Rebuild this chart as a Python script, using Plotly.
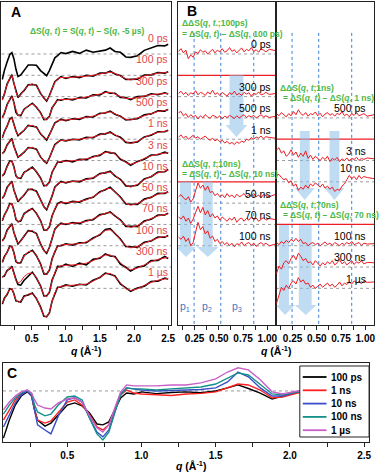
import plotly.graph_objects as go

W, H = 380, 472
FONT = "Liberation Sans, Arial, sans-serif"
GREEN = "#4cb847"
RED = "#ee1c24"
LABEL_RED = "#e2454a"
PBLUE = "#3f78c0"

# ---------------- panel A : dS(q,t), data (black) and fit (red) ----------------
q_a = [0.07, 0.10, 0.14, 0.18, 0.21, 0.24, 0.27, 0.30, 0.34, 0.39, 0.45, 0.51, 0.57,
       0.63, 0.68, 0.72, 0.76, 0.80, 0.84, 0.88, 0.93, 1.00, 1.10, 1.20, 1.30, 1.40,
       1.50, 1.58, 1.65, 1.72, 1.80, 1.88, 1.95, 2.05, 2.15, 2.25, 2.35, 2.45, 2.50]
times_a = ["0 ps", "100 ps", "300 ps", "500 ps", "1 ns", "3 ns", "10 ns",
           "50 ns", "70 ns", "100 ns", "300 ns", "1 µs"]

data_0ps = [-1.2, -0.78, -0.38, -0.02, 0.06, -0.22, -0.72, -1.06, -0.98, -0.78, -0.52, -0.52, -0.53, -0.78, -0.93, -1.02, -0.78, -0.47, -0.18, -0.08, 0.07, 0.02, 0.12, 0.03, 0.18, 0.08, 0.14, 0.18, 0.28, 0.12, 0.08, -0.14, -0.16, -0.08, 0.17, 0.27, 0.4, 0.38, 0.46]
data_100ps = [-1.14, -0.89, -0.41, -0.14, 0.03, -0.38, -0.77, -1.04, -0.88, -0.71, -0.44, -0.43, -0.47, -0.85, -1.07, -1.21, -0.95, -0.65, -0.3, -0.19, -0.06, -0.15, -0.06, -0.11, 0.0, -0.04, 0.11, 0.1, 0.19, 0.06, -0.01, -0.2, -0.19, -0.18, 0.01, 0.02, 0.13, 0.1, 0.17]
data_300ps = [-0.97, -0.79, -0.37, -0.13, 0.03, -0.27, -0.74, -0.87, -0.89, -0.59, -0.46, -0.31, -0.5, -0.75, -1.08, -1.06, -0.93, -0.52, -0.34, -0.14, -0.17, -0.1, -0.16, -0.04, -0.06, 0.08, 0.08, 0.23, 0.16, 0.16, -0.04, -0.05, -0.14, 0.0, 0.01, 0.13, 0.09, 0.18, 0.12]
data_500ps = [-0.93, -0.65, -0.39, -0.05, 0.02, -0.31, -0.6, -0.83, -0.73, -0.58, -0.35, -0.38, -0.42, -0.75, -0.92, -1.04, -0.79, -0.53, -0.23, -0.16, -0.06, -0.13, -0.04, -0.07, 0.06, 0.04, 0.22, 0.23, 0.32, 0.17, 0.08, -0.1, -0.07, -0.04, 0.15, 0.19, 0.33, 0.32, 0.4]
data_1ns = [-0.67, -0.58, -0.27, -0.1, 0.03, -0.33, -0.62, -0.85, -0.75, -0.61, -0.39, -0.41, -0.47, -0.83, -1.02, -1.13, -0.87, -0.58, -0.25, -0.15, -0.03, -0.08, 0.0, -0.03, 0.09, 0.07, 0.24, 0.25, 0.34, 0.19, 0.09, -0.15, -0.17, -0.13, 0.11, 0.19, 0.35, 0.35, 0.42]
data_3ns = [-0.72, -0.62, -0.27, -0.03, -0.03, -0.29, -0.72, -0.82, -0.84, -0.55, -0.44, -0.31, -0.53, -0.82, -1.19, -1.16, -1.01, -0.55, -0.31, -0.07, -0.08, 0.0, -0.06, 0.06, 0.04, 0.19, 0.24, 0.42, 0.36, 0.34, 0.06, -0.06, -0.22, -0.04, 0.06, 0.26, 0.27, 0.39, 0.34]
data_10ns = [-0.77, -0.64, -0.26, -0.09, 0.03, -0.38, -0.69, -0.93, -0.78, -0.62, -0.35, -0.36, -0.44, -0.88, -1.17, -1.31, -1.02, -0.66, -0.24, -0.11, 0.02, -0.05, 0.04, 0.0, 0.14, 0.17, 0.39, 0.42, 0.5, 0.28, 0.12, -0.19, -0.21, -0.16, 0.14, 0.24, 0.46, 0.47, 0.58]
data_50ns = [-0.83, -0.56, -0.33, -0.02, -0.03, -0.32, -0.76, -0.87, -0.84, -0.49, -0.36, -0.25, -0.48, -0.82, -1.26, -1.27, -1.11, -0.59, -0.29, -0.02, 0.06, -0.02, 0.08, 0.05, 0.19, 0.27, 0.54, 0.63, 0.75, 0.52, 0.29, -0.04, -0.06, -0.06, 0.19, 0.27, 0.46, 0.45, 0.53]
data_70ns = [-0.77, -0.64, -0.27, -0.08, 0.03, -0.38, -0.69, -0.92, -0.77, -0.56, -0.29, -0.32, -0.43, -0.91, -1.22, -1.36, -1.07, -0.66, -0.22, -0.08, 0.06, 0.0, 0.09, 0.04, 0.18, 0.22, 0.46, 0.5, 0.59, 0.4, 0.22, -0.09, -0.1, -0.09, 0.16, 0.24, 0.44, 0.44, 0.53]
data_100ns = [-0.78, -0.51, -0.31, -0.02, -0.03, -0.32, -0.74, -0.82, -0.8, -0.45, -0.32, -0.21, -0.47, -0.85, -1.32, -1.33, -1.15, -0.61, -0.29, -0.01, 0.0, 0.09, 0.03, 0.14, 0.14, 0.36, 0.51, 0.76, 0.8, 0.56, 0.32, -0.04, -0.06, -0.07, 0.16, 0.22, 0.41, 0.4, 0.48]
data_300ns = [-0.46, -0.43, -0.16, -0.08, 0.04, -0.34, -0.58, -0.82, -0.85, -0.62, -0.41, -0.24, -0.52, -0.88, -1.36, -1.35, -1.19, -0.6, -0.3, 0.03, 0.02, 0.14, 0.03, 0.18, 0.1, 0.36, 0.41, 0.62, 0.52, 0.5, 0.14, -0.01, -0.19, 0.0, 0.05, 0.3, 0.31, 0.5, 0.4]
data_1us = [-0.74, -0.46, -0.29, -0.02, -0.03, -0.25, -0.59, -0.62, -0.64, -0.36, -0.31, -0.22, -0.48, -0.87, -1.31, -1.33, -1.15, -0.59, -0.24, 0.05, 0.06, 0.16, 0.1, 0.19, 0.16, 0.38, 0.51, 0.72, 0.66, 0.58, 0.21, 0.02, -0.14, 0.02, 0.1, 0.32, 0.34, 0.48, 0.44]

fit_100ps = [-1.17, -0.85, -0.45, -0.12, 0.0, -0.35, -0.8, -1.0, -0.92, -0.68, -0.47, -0.4, -0.5, -0.82, -1.1, -1.18, -0.98, -0.62, -0.33, -0.16, -0.1, -0.12, -0.1, -0.08, -0.04, 0.0, 0.07, 0.13, 0.15, 0.09, -0.04, -0.16, -0.22, -0.15, -0.03, 0.05, 0.1, 0.13, 0.15]
fit_300ps = [-1.0, -0.75, -0.4, -0.1, 0.0, -0.3, -0.7, -0.9, -0.85, -0.62, -0.42, -0.35, -0.47, -0.78, -1.05, -1.1, -0.9, -0.55, -0.3, -0.17, -0.13, -0.14, -0.12, -0.08, -0.02, 0.04, 0.12, 0.19, 0.2, 0.12, 0.0, -0.08, -0.1, -0.04, 0.04, 0.09, 0.12, 0.14, 0.15]
fit_500ps = [-0.9, -0.68, -0.36, -0.08, 0.0, -0.28, -0.63, -0.8, -0.76, -0.55, -0.38, -0.35, -0.45, -0.72, -0.95, -1.0, -0.82, -0.5, -0.26, -0.13, -0.1, -0.1, -0.08, -0.03, 0.03, 0.08, 0.18, 0.26, 0.28, 0.2, 0.05, -0.06, -0.1, 0.0, 0.12, 0.22, 0.3, 0.35, 0.38]
fit_1ns = [-0.7, -0.55, -0.3, -0.07, 0.0, -0.3, -0.65, -0.82, -0.78, -0.58, -0.42, -0.38, -0.5, -0.8, -1.05, -1.1, -0.9, -0.55, -0.28, -0.12, -0.06, -0.05, -0.04, 0.0, 0.05, 0.1, 0.2, 0.28, 0.3, 0.22, 0.05, -0.12, -0.2, -0.1, 0.08, 0.22, 0.32, 0.38, 0.4]
fit_3ns = [-0.75, -0.58, -0.3, -0.06, 0.0, -0.32, -0.68, -0.85, -0.8, -0.58, -0.4, -0.35, -0.5, -0.85, -1.15, -1.2, -0.98, -0.58, -0.28, -0.1, -0.04, -0.04, -0.02, 0.02, 0.08, 0.15, 0.28, 0.38, 0.4, 0.3, 0.1, -0.1, -0.18, -0.08, 0.1, 0.22, 0.3, 0.35, 0.37]
fit_10ns = [-0.8, -0.6, -0.3, -0.06, 0.0, -0.35, -0.72, -0.9, -0.82, -0.58, -0.38, -0.32, -0.48, -0.85, -1.2, -1.28, -1.05, -0.62, -0.28, -0.08, -0.02, -0.02, 0.0, 0.04, 0.1, 0.2, 0.35, 0.45, 0.46, 0.32, 0.08, -0.15, -0.25, -0.12, 0.1, 0.28, 0.42, 0.5, 0.55]
fit_50ns = [-0.8, -0.6, -0.3, -0.05, 0.0, -0.35, -0.72, -0.9, -0.8, -0.52, -0.32, -0.28, -0.45, -0.85, -1.22, -1.3, -1.08, -0.62, -0.25, -0.05, 0.02, 0.02, 0.04, 0.08, 0.15, 0.3, 0.5, 0.66, 0.7, 0.55, 0.25, 0.0, -0.1, -0.02, 0.15, 0.3, 0.42, 0.48, 0.5]
fit_70ns = [-0.8, -0.6, -0.3, -0.05, 0.0, -0.35, -0.72, -0.88, -0.8, -0.52, -0.32, -0.28, -0.46, -0.88, -1.25, -1.32, -1.1, -0.63, -0.25, -0.05, 0.02, 0.03, 0.05, 0.08, 0.14, 0.26, 0.42, 0.53, 0.55, 0.43, 0.18, -0.05, -0.14, -0.05, 0.12, 0.28, 0.4, 0.47, 0.5]
fit_100ns = [-0.75, -0.55, -0.28, -0.05, 0.0, -0.35, -0.7, -0.85, -0.76, -0.48, -0.28, -0.25, -0.44, -0.88, -1.28, -1.36, -1.12, -0.64, -0.25, -0.04, 0.04, 0.05, 0.07, 0.1, 0.18, 0.32, 0.55, 0.72, 0.75, 0.6, 0.28, 0.0, -0.1, -0.03, 0.12, 0.26, 0.37, 0.43, 0.45]
fit_300ns = [-0.5, -0.38, -0.2, -0.04, 0.0, -0.3, -0.62, -0.75, -0.68, -0.45, -0.3, -0.28, -0.48, -0.92, -1.32, -1.4, -1.15, -0.65, -0.25, -0.02, 0.06, 0.08, 0.1, 0.12, 0.18, 0.3, 0.46, 0.56, 0.57, 0.45, 0.2, -0.05, -0.13, -0.05, 0.1, 0.25, 0.36, 0.42, 0.45]
fit_1us = [-0.7, -0.5, -0.25, -0.05, 0.0, -0.28, -0.55, -0.65, -0.6, -0.4, -0.27, -0.25, -0.45, -0.9, -1.28, -1.36, -1.12, -0.62, -0.2, 0.02, 0.1, 0.12, 0.14, 0.15, 0.2, 0.34, 0.55, 0.68, 0.7, 0.55, 0.25, -0.02, -0.1, -0.02, 0.14, 0.28, 0.38, 0.44, 0.47]

data_a = [data_0ps, data_100ps, data_300ps, data_500ps, data_1ns, data_3ns, data_10ns,
          data_50ns, data_70ns, data_100ns, data_300ns, data_1us]
fit_a = [None, fit_100ps, fit_300ps, fit_500ps, fit_1ns, fit_3ns, fit_10ns,
         fit_50ns, fit_70ns, fit_100ns, fit_300ns, fit_1us]

# ---------------- panel B : ddS(q,t; ref) ----------------
q_b = [0.085, 0.11, 0.135, 0.16, 0.185, 0.21, 0.235, 0.26, 0.285, 0.31, 0.335, 0.36, 0.385,
       0.41, 0.435, 0.46, 0.485, 0.51, 0.535, 0.56, 0.585, 0.61, 0.635, 0.66, 0.685, 0.71,
       0.735, 0.76, 0.785, 0.81, 0.835, 0.86, 0.885, 0.91, 0.935, 0.96, 0.985, 1.02, 1.09]

dd_0ps = [0.12, 0.25, 0.05, 0.18, -0.22, -0.05, -0.15, 0.1, 0.02, 0.2, 0.08, 0.15, 0.0, 0.12, 0.22, 0.05, 0.18, 0.1, 0.25, 0.08, 0.15, 0.3, 0.12, 0.2, 0.05, 0.18, 0.28, 0.1, 0.22, 0.15, 0.3, 0.12, 0.2, 0.08, 0.25, 0.18, 0.1, 0.22, 0.15]
dd_300ps = [0.15, 0.25, 0.1, 0.2, 0.05, 0.18, 0.12, 0.28, 0.08, 0.2, 0.15, 0.05, 0.22, 0.12, 0.3, 0.1, 0.18, 0.05, 0.2, 0.12, 0.02, 0.18, 0.1, 0.25, 0.08, 0.15, 0.05, 0.2, 0.12, 0.18, 0.02, 0.15, 0.1, 0.22, 0.08, 0.12, 0.2, 0.1, 0.15]
dd_500ps_a = [0.25, 0.3, 0.1, 0.2, 0.02, 0.15, 0.05, 0.12, -0.05, 0.1, 0.0, 0.15, 0.05, -0.02, 0.12, 0.08, 0.0, 0.1, -0.05, 0.08, 0.02, 0.12, 0.05, -0.03, 0.1, 0.0, 0.08, 0.15, 0.02, 0.1, 0.05, 0.12, 0.0, 0.08, 0.15, 0.05, 0.1, 0.02, 0.08]
dd_1ns = [0.1, 0.2, 0.05, 0.15, 0.0, 0.1, 0.18, 0.05, 0.12, 0.0, 0.08, 0.15, 0.02, -0.05, 0.05, -0.08, 0.0, -0.12, -0.05, -0.18, -0.1, -0.22, -0.15, -0.25, -0.12, -0.2, -0.08, -0.15, 0.0, -0.05, 0.08, 0.0, 0.1, 0.05, 0.15, 0.02, 0.12, 0.08, 0.05]
dd_50ns = [0.3, 0.4, 0.25, 0.15, 0.3, 0.05, 0.2, 0.55, 0.95, 0.7, 0.85, 0.6, 0.8, 0.5, 0.55, 0.35, 0.45, 0.3, 0.4, 0.25, 0.45, 0.3, 0.38, 0.25, 0.42, 0.3, 0.35, 0.45, 0.28, 0.4, 0.32, 0.45, 0.3, 0.38, 0.25, 0.4, 0.35, 0.3, 0.42]
dd_70ns = [0.35, 0.25, 0.4, 0.15, 0.3, 0.05, 0.25, 0.6, 0.85, 0.55, 0.8, 0.45, 0.65, 0.35, 0.5, 0.3, 0.4, 0.2, 0.35, 0.25, 0.15, 0.3, 0.2, 0.35, 0.1, 0.25, 0.3, 0.15, 0.28, 0.2, 0.35, 0.22, 0.3, 0.15, 0.25, 0.32, 0.2, 0.28, 0.22]
dd_100ns_a = [0.4, 0.3, 0.45, 0.2, 0.35, 0.0, 0.15, 0.7, 1.1, 0.75, 0.9, 0.55, 0.7, 0.35, 0.45, 0.2, 0.3, 0.1, 0.2, 0.05, 0.15, 0.0, 0.12, -0.05, 0.1, 0.05, 0.18, 0.0, 0.1, 0.15, 0.02, 0.12, -0.03, 0.08, 0.15, 0.05, 0.12, 0.0, 0.08]
dd_500ps_b = [0.2, 0.1, 0.25, 0.15, 0.05, 0.2, 0.1, 0.3, 0.15, 0.38, 0.2, 0.12, 0.25, 0.08, 0.2, 0.15, 0.28, 0.1, 0.22, 0.05, 0.18, 0.25, 0.12, 0.2, 0.08, 0.22, 0.15, 0.3, 0.1, 0.18, 0.05, 0.2, 0.12, 0.25, 0.1, 0.15, 0.2, 0.08, 0.15]
dd_3ns = [0.5, 0.6, 0.35, 0.45, 0.2, 0.3, 0.5, 0.25, 0.4, 0.15, 0.35, 0.2, 0.45, 0.1, 0.25, 0.05, 0.2, 0.1, 0.0, 0.15, 0.05, 0.2, -0.05, 0.1, 0.02, 0.15, -0.05, 0.08, 0.0, 0.12, -0.02, 0.1, 0.05, 0.15, 0.0, 0.1, 0.05, 0.12, 0.08]
dd_10ns = [0.3, 0.35, 0.2, 0.1, 0.15, -0.05, 0.05, -0.2, -0.1, -0.4, -0.25, -0.35, -0.15, -0.3, -0.1, -0.2, -0.05, -0.15, -0.25, -0.1, -0.3, -0.2, -0.35, -0.25, -0.45, -0.35, -0.4, -0.2, -0.1, 0.1, 0.3, 0.15, 0.25, 0.1, 0.3, 0.15, 0.25, 0.2, 0.15]
dd_100ns_b = [0.15, 0.05, 0.2, 0.1, 0.25, 0.15, 0.3, 0.2, 0.35, 0.2, 0.3, 0.1, 0.15, 0.0, 0.1, 0.15, 0.05, 0.12, 0.0, 0.1, 0.18, 0.05, 0.12, 0.02, 0.15, 0.08, 0.0, 0.12, 0.05, 0.15, 0.08, 0.2, 0.05, 0.1, 0.15, 0.02, 0.12, 0.08, 0.1]
dd_300ns = [-0.3, 0.05, -0.1, 0.2, 0.3, 0.15, 0.4, 0.55, 0.35, 0.65, 0.5, 0.3, 0.4, 0.2, 0.25, 0.1, 0.3, 0.15, 0.05, 0.2, 0.1, 0.25, 0.15, 0.3, 0.1, 0.2, 0.35, 0.15, 0.25, 0.1, 0.2, 0.3, 0.12, 0.25, 0.18, 0.3, 0.15, 0.22, 0.2]
dd_1us = [-0.7, -0.3, 0.05, -0.1, 0.15, 0.0, 0.25, 0.35, 0.2, 0.5, 0.3, 0.4, 0.2, 0.25, 0.05, 0.15, 0.0, 0.1, 0.2, 0.05, 0.15, 0.25, 0.1, 0.2, 0.05, 0.15, 0.3, 0.12, 0.25, 0.18, 0.3, 0.2, 0.35, 0.25, 0.3, 0.22, 0.35, 0.28, 0.3]

b_left_labels = ["0 ps", "300 ps", "500 ps", "1 ns", "50 ns", "70 ns", "100 ns"]
b_left_slots = [0, 2, 3, 4, 7, 8, 9]
b_left_vals = [dd_0ps, dd_300ps, dd_500ps_a, dd_1ns, dd_50ns, dd_70ns, dd_100ns_a]
b_right_labels = ["500 ps", "3 ns", "10 ns", "100 ns", "300 ns", "1 µs"]
b_right_slots = [3, 5, 6, 9, 10, 11]
b_right_vals = [dd_500ps_b, dd_3ns, dd_10ns, dd_100ns_b, dd_300ns, dd_1us]
ref_left_slots = [1, 6]    # 100 ps and 10 ns references
ref_right_slots = [4, 8]   # 1 ns and 70 ns references
region_bounds = [0.245, 0.52, 0.86]

# ---------------- panel C : dS(q,t) overlaid ----------------
q_c = [0.07, 0.11, 0.15, 0.19, 0.23, 0.26, 0.28, 0.30, 0.35, 0.39, 0.44, 0.50, 0.55, 0.60,
       0.65, 0.70, 0.74, 0.78, 0.82, 0.86, 0.90, 0.95, 1.00, 1.10, 1.20, 1.30, 1.40, 1.50,
       1.58, 1.65, 1.72, 1.80, 1.88, 1.95, 2.05, 2.20, 2.35, 2.50]
c_names = ["100 ps", "1 ns", "10 ns", "100 ns", "1 µs"]
c_100ps = [-1.57, -0.97, -0.47, -0.17, -0.03, -0.17, -0.63, -0.97, -1.17, -1.07, -0.8, -0.47, -0.4, -0.5, -0.73, -1.1, -1.13, -1.03, -0.63, -0.23, -0.07, -0.1, -0.03, -0.09, -0.05, -0.03, -0.06, 0.0, 0.1, 0.2, 0.08, -0.07, -0.27, -0.18, -0.03, 0.02, 0.07, 0.17]
c_1ns = [-0.97, -0.63, -0.3, -0.1, 0.0, -0.17, -0.63, -0.97, -1.07, -1.0, -0.7, -0.37, -0.3, -0.47, -0.8, -1.2, -1.3, -1.13, -0.63, -0.13, 0.03, -0.07, -0.1, -0.13, -0.15, -0.1, -0.08, -0.03, 0.1, 0.23, 0.2, 0.03, -0.23, -0.2, -0.07, 0.0, 0.07, 0.17]
c_10ns = [-1.2, -0.8, -0.4, -0.13, 0.0, -0.17, -0.7, -1.13, -1.3, -1.43, -0.83, -0.3, -0.23, -0.37, -0.9, -1.37, -1.53, -1.3, -0.7, -0.1, 0.1, 0.07, 0.03, 0.0, 0.02, 0.03, 0.05, 0.1, 0.3, 0.63, 0.47, 0.1, -0.17, -0.17, -0.03, 0.03, 0.1, 0.2]
c_100ns = [-0.77, -0.47, -0.23, -0.07, 0.03, -0.1, -0.47, -0.7, -0.83, -0.77, -0.47, -0.2, -0.17, -0.3, -0.9, -1.43, -1.63, -1.37, -0.73, -0.13, 0.1, 0.07, 0.07, 0.03, 0.07, 0.1, 0.13, 0.23, 0.43, 0.6, 0.53, 0.23, -0.1, -0.13, -0.03, 0.03, 0.1, 0.2]
c_1us = [-0.63, -0.37, -0.17, -0.03, 0.03, -0.07, -0.3, -0.47, -0.57, -0.6, -0.4, -0.27, -0.23, -0.37, -0.83, -1.23, -1.37, -1.13, -0.57, -0.03, 0.2, 0.17, 0.17, 0.17, 0.2, 0.2, 0.27, 0.4, 0.63, 0.77, 0.7, 0.37, -0.03, -0.1, 0.0, 0.07, 0.13, 0.23]
c_vals = [c_100ps, c_1ns, c_10ns, c_100ns, c_1us]
c_colors = ["#000000", "#ff2020", "#3a4fc8", "#149089", "#c860c8"]


def pp(x, y):
    # pixel position in the 380x472 picture -> paper coordinates
    return x / W, 1 - y / H


fig = go.Figure()
shapes = []
ann = []


def text(s, x, y, size=10.5, color="black", xanchor="center", xref="paper", yref="paper"):
    ann.append(dict(text=s, x=x, y=y, xref=xref, yref=yref, xanchor=xanchor, yanchor="middle",
                    showarrow=False, font=dict(family=FONT, size=size, color=color)))


def hline(y, xr, yr, color, width, dash):
    shapes.append(dict(type="line", xref=xr + " domain", yref=yr, x0=0, x1=1, y0=y, y1=y,
                       line=dict(color=color, width=width, dash=dash), layer="below"))


# panel A
for k in range(len(times_a)):
    hline(-k, "x", "y", "#9a9a9a", 1, "dot")
    fig.add_trace(go.Scatter(x=q_a, y=[v - k for v in data_a[k]], mode="lines",
                             line=dict(color="black", width=1.6), showlegend=False,
                             hoverinfo="skip", xaxis="x", yaxis="y"))
    if fit_a[k] is not None:
        fig.add_trace(go.Scatter(x=q_a, y=[v - k for v in fit_a[k]], mode="lines",
                                 line=dict(color=RED, width=1), showlegend=False,
                                 hoverinfo="skip", xaxis="x", yaxis="y"))
    text(times_a[k], 2.52, -k + 0.75, color=LABEL_RED, xanchor="right", xref="x", yref="y")

# panel B
for labels, slots, vals, xa, ya, xlab in [
        (b_left_labels, b_left_slots, b_left_vals, "x2", "y2", 1.06),
        (b_right_labels, b_right_slots, b_right_vals, "x3", "y3", 1.03)]:
    for lab, k, v in zip(labels, slots, vals):
        hline(-k, xa, ya, "#9a9a9a", 1, "dot")
        fig.add_trace(go.Scatter(x=q_b, y=[d - k for d in v], mode="lines",
                                 line=dict(color=RED, width=1), showlegend=False,
                                 hoverinfo="skip", xaxis=xa, yaxis=ya))
        dy = 0.65 if lab == "10 ns" else 0.45
        text(lab, xlab, -k + dy, xanchor="right", xref=xa, yref=ya)
    for qb in region_bounds:
        shapes.append(dict(type="line", xref=xa, yref=ya, x0=qb, x1=qb, y0=0.99, y1=-12.72,
                           line=dict(color="#3d7fd0", width=1, dash="dot"), layer="below"))

for k in ref_left_slots:
    hline(-k, "x2", "y2", RED, 1.3, "solid")
for k in ref_right_slots:
    hline(-k, "x3", "y3", RED, 1.3, "solid")

# light-blue arrows: (axis, shaft x0, x1, head x0, x1, tip x, top, head base, tip y)
arrows = [("2", 0.611, 0.753, 0.570, 0.794, 0.682, -0.99, -3.33, -3.9),
          ("2", 0.100, 0.213, 0.060, 0.264, 0.162, -6.0, -9.06, -9.53),
          ("2", 0.335, 0.437, 0.274, 0.498, 0.386, -6.0, -9.06, -9.53),
          ("3", 0.325, 0.427, 0.274, 0.478, 0.376, -3.62, -6.29, -6.85),
          ("3", 0.631, 0.733, 0.580, 0.784, 0.682, -3.62, -6.29, -6.85),
          ("3", 0.111, 0.213, 0.080, 0.274, 0.172, -8.03, -11.78, -12.25),
          ("3", 0.315, 0.447, 0.274, 0.498, 0.386, -8.03, -11.78, -12.25)]
for a, s0, s1, h0, h1, tx, top, hb, tip in arrows:
    path = (f"M {s0},{top} L {s1},{top} L {s1},{hb} L {h1},{hb} L {tx},{tip} "
            f"L {h0},{hb} L {s0},{hb} Z")
    shapes.append(dict(type="path", xref="x" + a, yref="y" + a, path=path,
                       fillcolor="rgba(140,192,232,0.55)", line=dict(width=0), layer="below"))

# panel C
shapes.append(dict(type="line", xref="x4 domain", yref="y4", x0=0, x1=1, y0=0, y1=0,
                   line=dict(color="#9a9a9a", width=1, dash="dot"), layer="below"))
for name, v, col in zip(c_names, c_vals, c_colors):
    fig.add_trace(go.Scatter(x=q_c, y=v, mode="lines", name=name, showlegend=False,
                             line=dict(color=col, width=1.4), hoverinfo="skip",
                             xaxis="x4", yaxis="y4"))

# compact legend box for panel C
x0, y0 = pp(303, 366)
x1, y1 = pp(373, 437)
shapes.append(dict(type="rect", xref="paper", yref="paper", x0=x0, x1=x1, y0=y1, y1=y0,
                   fillcolor="white", line=dict(color="#222222", width=1), layer="above"))
for i, (name, col) in enumerate(zip(c_names, c_colors)):
    ly = 377 + 13.3 * i
    a0, b0 = pp(306, ly)
    a1, _ = pp(330, ly)
    shapes.append(dict(type="line", xref="paper", yref="paper", x0=a0, x1=a1, y0=b0, y1=b0,
                       line=dict(color=col, width=1.8), layer="above"))
    text(f"<b>{name}</b>", *pp(333, ly), size=10, xanchor="left")

# texts
qt = "(<i>q</i>, <i>t</i>)"
text(f"<b>ΔS{qt} = S{qt} – S(<i>q</i>, -5 µs)</b>", *pp(88, 31), size=8.5, color=GREEN)
text(f"<b>ΔΔS(<i>q</i>, <i>t</i>.;100ps)</b>", *pp(182, 23), size=8.5, color=GREEN, xanchor="left")
text(f"<b>= ΔS{qt} – ΔS(<i>q</i>, 100 ps)</b>", *pp(182, 34), size=8.5, color=GREEN, xanchor="left")
text(f"<b>ΔΔS(<i>q</i>, <i>t</i>;10ns)</b>", *pp(182, 164), size=8.5, color=GREEN, xanchor="left")
text(f"<b>= ΔS{qt} – ΔS(<i>q</i>, 10 ns)</b>", *pp(182, 174), size=8.5, color=GREEN, xanchor="left")
text(f"<b>ΔΔS(<i>q</i>, <i>t</i>;1ns)</b>", *pp(281, 88), size=8.5, color=GREEN, xanchor="left")
text(f"<b>= ΔS{qt} – ΔS(<i>q</i>, 1 ns)</b>", *pp(284, 98), size=8.5, color=GREEN, xanchor="left")
text(f"<b>ΔΔS(<i>q</i>, <i>t</i>;70ns)</b>", *pp(281, 205), size=8.5, color=GREEN, xanchor="left")
text(f"<b>= ΔS{qt} – ΔS(<i>q</i>, 70 ns)</b>", *pp(284, 215), size=8.5, color=GREEN, xanchor="left")
text("p<sub>1</sub>", *pp(187, 307), size=10.5, color=PBLUE)
text("p<sub>2</sub>", *pp(209, 307), size=10.5, color=PBLUE)
text("p<sub>3</sub>", *pp(240, 307), size=10.5, color=PBLUE)
text("<b>A</b>", *pp(16, 12), size=14)
text("<b>B</b>", *pp(194, 11), size=14)
text("<b>C</b>", *pp(12, 373), size=14)
qlab = "<b><i>q</i> (Å<sup>-1</sup>)</b>"
text(qlab, *pp(87, 350), size=10.5)
text(qlab, *pp(279, 350), size=10.5)
text(qlab, *pp(193, 465), size=10.5)

tickfont = dict(family=FONT, size=10, color="black", weight="bold")
frame = dict(showline=True, mirror=True, linecolor="#222222", linewidth=1,
             showgrid=False, zeroline=False)
qx = dict(tickmode="linear", tick0=0, dtick=0.5, tickformat=".1f",
          minor=dict(ticks="outside", ticklen=4, tickcolor="#222222", dtick=0.25, tick0=0))
bx = dict(tickmode="linear", tick0=0, dtick=0.25, tickformat=".2f",
          minor=dict(ticks="outside", ticklen=4, tickcolor="#222222", dtick=0.125, tick0=0))
xt = dict(ticks="outside", ticklen=4, tickwidth=1, tickcolor="#222222", tickfont=tickfont,
          tickangle=0)
yt = dict(showticklabels=False, ticks="")
top_dom = [1 - 325 / H, 1 - 2 / H]

fig.update_layout(
    width=W, height=H, margin=dict(l=0, r=0, t=0, b=0),
    paper_bgcolor="white", plot_bgcolor="white",
    font=dict(family=FONT), showlegend=False,
    xaxis=dict(domain=[1.5 / W, 173 / W], range=[0.058, 2.544], anchor="y", **qx, **xt, **frame),
    yaxis=dict(domain=top_dom, range=[-12.72, 2.44], anchor="x", **yt, **frame),
    xaxis2=dict(domain=[180 / W, 279 / W], range=[0.08, 1.09], anchor="y2", **bx, **xt, **frame),
    yaxis2=dict(domain=top_dom, range=[-12.72, 2.44], anchor="x2", **yt, **frame),
    xaxis3=dict(domain=[279 / W, 378 / W], range=[0.08, 1.09], anchor="y3", **bx, **xt, **frame),
    yaxis3=dict(domain=top_dom, range=[-12.72, 2.44], anchor="x3", **yt, **frame),
    xaxis4=dict(domain=[3 / W, 373 / W], range=[0.067, 2.533], anchor="y4", **qx, **xt, **frame),
    yaxis4=dict(domain=[1 - 442 / H, 1 - 363 / H], range=[-1.7, 0.93], anchor="x4", **yt, **frame),
    shapes=shapes, annotations=ann,
)

fig.write_html("out.html", config={"displayModeBar": False},
               post_script="document.body.style.margin='0';")
